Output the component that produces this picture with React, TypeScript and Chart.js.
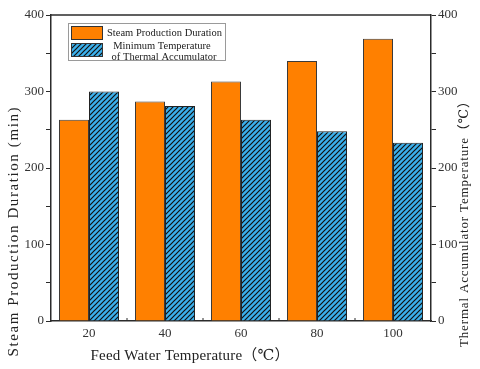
import React, { useEffect, useRef } from "react";
import { Chart, registerables } from "chart.js";
Chart.register(...registerables);

const categories = ["20", "40", "60", "80", "100"];
const steamDuration = [263, 287, 313, 340, 369];
const minTemperature = [300, 281, 263, 248, 233];
const yTicks = [0, 100, 200, 300, 400];
const seriesLabels = ["Steam Production Duration", "Minimum Temperature of Thermal Accumulator"];
const legendLines = [["Steam Production Duration"], ["Minimum Temperature", "of Thermal Accumulator"]];
const xTitle = "Feed Water Temperature（℃）";
const yTitle = "Steam Production Duration (min)";
const y2Title = "Thermal Accumulator Temperature（℃）";

const FAMILY = "'Liberation Serif', 'DejaVu Serif', 'Noto Sans CJK SC', serif";
const AXIS = "#2b2b2b";
const ORANGE = "#FF8000";
const BLUE = "#3BB0EC";

function makeHatch(): CanvasPattern | string {
  const s = 5;
  const c = document.createElement("canvas");
  c.width = s;
  c.height = s;
  const g = c.getContext("2d");
  if (!g) return BLUE;
  g.fillStyle = BLUE;
  g.fillRect(0, 0, s, s);
  g.strokeStyle = "#111";
  g.lineWidth = 1.2;
  g.beginPath();
  g.moveTo(-1, s + 1);
  g.lineTo(s + 1, -1);
  g.moveTo(-1, 1);
  g.lineTo(1, -1);
  g.moveTo(s - 1, s + 1);
  g.lineTo(s + 1, s - 1);
  g.stroke();
  return g.createPattern(c, "repeat") || BLUE;
}

function drawSpaced(ctx: CanvasRenderingContext2D, text: string, cx: number, cy: number, font: string, target: number, rot = 0, align: CanvasTextAlign = "center") {
  ctx.save();
  ctx.font = font;
  const w = ctx.measureText(text).width;
  const sp = target > 0 ? Math.max(0, (target - w) / Math.max(1, text.length - 1)) : 0;
  (ctx as any).letterSpacing = sp + "px";
  ctx.translate(cx, cy);
  ctx.rotate(rot);
  ctx.textAlign = align;
  ctx.textBaseline = "middle";
  ctx.fillStyle = "#222";
  ctx.fillText(text, align === "center" ? sp / 2 : 0, 0);
  ctx.restore();
}

const decorPlugin = {
  id: "decor",
  afterDraw(chart: any) {
    const ctx: CanvasRenderingContext2D = chart.ctx;
    const ca = chart.chartArea;
    ctx.save();
    ctx.strokeStyle = AXIS;
    ctx.lineWidth = 1.5;
    ctx.beginPath();
    ctx.moveTo(ca.left, ca.top);
    ctx.lineTo(ca.right, ca.top);
    ctx.stroke();
    const xs = chart.scales.x;
    ctx.lineWidth = 1;
    for (let i = 1; i < categories.length; i++) {
      const px = (xs.getPixelForValue(i - 1) + xs.getPixelForValue(i)) / 2;
      ctx.beginPath();
      ctx.moveTo(px, ca.bottom);
      ctx.lineTo(px, ca.bottom - 3);
      ctx.stroke();
    }
    ctx.restore();

    drawSpaced(ctx, yTitle, 14, 232, `15px ${FAMILY}`, 249, -Math.PI / 2);
    drawSpaced(ctx, y2Title, 465, 221, `13px ${FAMILY}`, 252, -Math.PI / 2);
    drawSpaced(ctx, xTitle, 190, 356, `15px ${FAMILY}`, 199);

    const ds = chart.data.datasets;
    ctx.save();
    ctx.fillStyle = "#fff";
    ctx.fillRect(68, 23, 157, 37);
    ctx.strokeStyle = "#9a9a9a";
    ctx.lineWidth = 1;
    ctx.strokeRect(68.5, 23.5, 157, 37);
    const sw = [
      { y: 26, h: 14 },
      { y: 43, h: 14 },
    ];
    ds.forEach((d: any, i: number) => {
      ctx.fillStyle = d.backgroundColor;
      ctx.fillRect(71, sw[i].y, 32, sw[i].h);
      ctx.strokeStyle = "#333";
      ctx.strokeRect(71.5, sw[i].y + 0.5, 31, sw[i].h - 1);
    });
    ctx.restore();
    drawSpaced(ctx, legendLines[0][0], 107, 33, `10.5px ${FAMILY}`, 115, 0, "left");
    drawSpaced(ctx, legendLines[1][0], 162, 46, `10.5px ${FAMILY}`, 97);
    drawSpaced(ctx, legendLines[1][1], 164, 57, `10.5px ${FAMILY}`, 105);
  },
};

export default function App() {
  const ref = useRef<HTMLCanvasElement | null>(null);
  useEffect(() => {
    document.body.style.margin = "0";
    document.body.style.background = "#fff";
    const canvas = ref.current;
    if (!canvas) return;
    const hatch = makeHatch();
    const tickFont = { family: FAMILY, size: 13 };
    const yTickCb = (v: any) => (yTicks.includes(Number(v)) ? String(v) : "");
    const chart = new Chart(canvas, {
      type: "bar",
      data: {
        labels: categories,
        datasets: [
          {
            label: seriesLabels[0],
            data: steamDuration,
            backgroundColor: ORANGE,
            borderColor: "#3a3a3a",
            borderWidth: 1,
            yAxisID: "y",
            categoryPercentage: 0.79,
            barPercentage: 1,
          },
          {
            label: seriesLabels[1],
            data: minTemperature,
            backgroundColor: hatch as any,
            borderColor: "#222",
            borderWidth: 1,
            yAxisID: "y2",
            categoryPercentage: 0.79,
            barPercentage: 1,
          },
        ],
      },
      options: {
        animation: false,
        responsive: false,
        maintainAspectRatio: false,
        layout: { padding: { top: 15, left: 0, right: 0, bottom: 0 } },
        plugins: { legend: { display: false }, tooltip: { enabled: false } },
        scales: {
          x: {
            grid: { display: false },
            border: { color: AXIS, width: 1.5 },
            ticks: { font: tickFont, color: "#333", padding: -3 },
            afterFit: (s: any) => {
              s.height = 48;
            },
          },
          y: {
            position: "left",
            min: yTicks[0],
            max: yTicks[yTicks.length - 1],
            grid: { drawOnChartArea: false, tickLength: 5, color: AXIS },
            border: { color: AXIS, width: 1.5 },
            ticks: { stepSize: 50, autoSkip: false, callback: yTickCb, font: tickFont, color: "#333", padding: 2 },
            afterFit: (s: any) => {
              s.width = 51;
            },
          },
          y2: {
            position: "right",
            min: yTicks[0],
            max: yTicks[yTicks.length - 1],
            grid: { drawOnChartArea: false, tickLength: 5, color: AXIS },
            border: { color: AXIS, width: 1.5 },
            ticks: { stepSize: 50, autoSkip: false, callback: yTickCb, font: tickFont, color: "#333", padding: 2 },
            afterFit: (s: any) => {
              s.width = 49;
            },
          },
        },
      },
      plugins: [decorPlugin],
    });
    return () => chart.destroy();
  }, []);
  return (
    <div style={{ width: 480, height: 369, background: "#fff" }}>
      <canvas ref={ref} width={480} height={369} style={{ display: "block", width: 480, height: 369 }} />
    </div>
  );
}
